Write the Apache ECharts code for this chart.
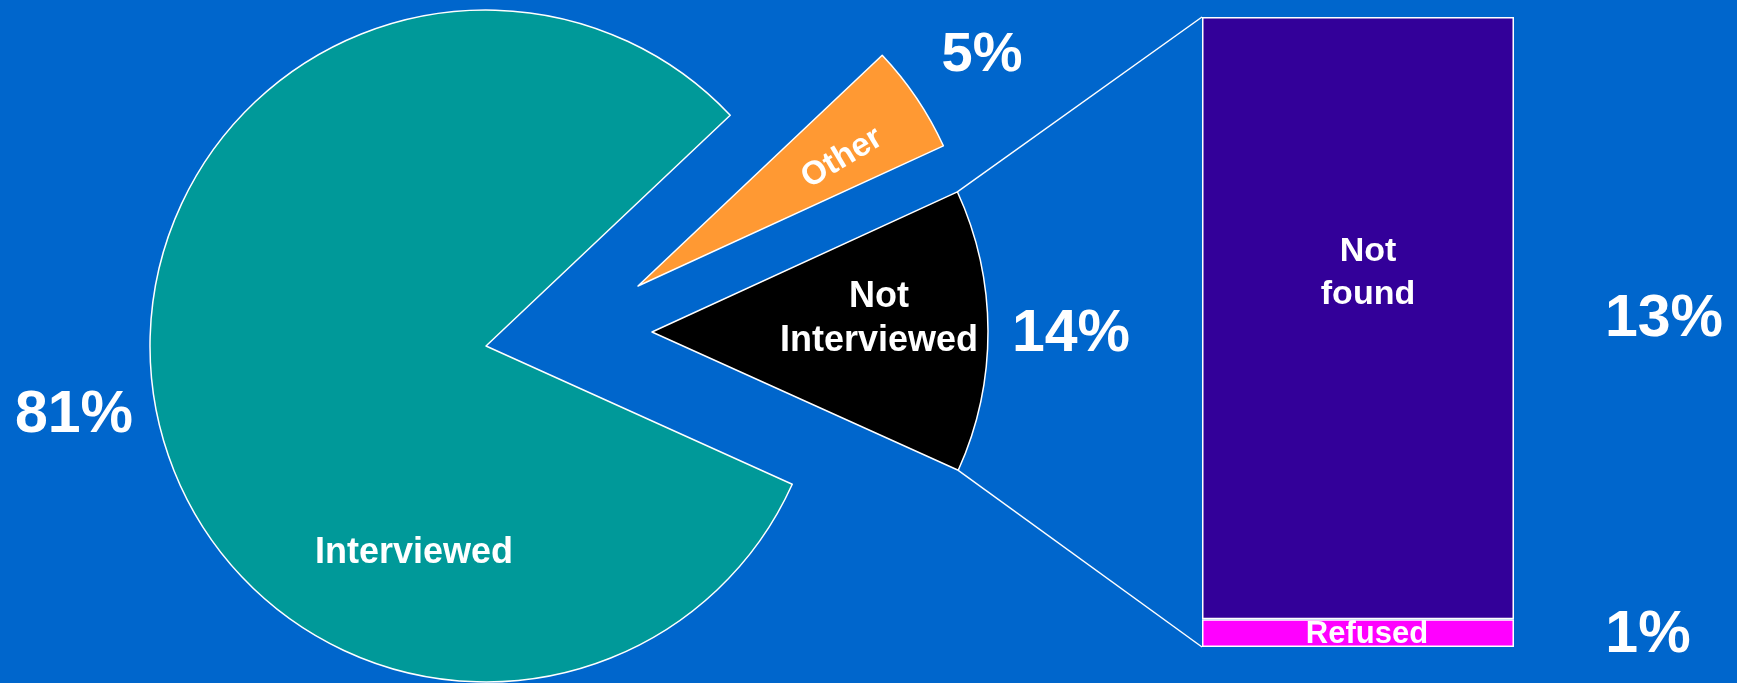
<!DOCTYPE html>
<html><head><meta charset="utf-8">
<script src="https://cdn.jsdelivr.net/npm/echarts@6/dist/echarts.min.js"></script>
<style>html,body{margin:0;padding:0;background:#0066CC}#c{width:1737px;height:683px}</style>
</head><body><div id="c"></div>
<script>
// ---- data ----
const pieNames = ['Not Interviewed', 'Other', 'Interviewed'];
const pieValues = [13.6, 5.2, 81.2];
const pieLabels = ['Not\nInterviewed', 'Other', 'Interviewed'];
const barNames = ['Refused', 'Not found'];
const barValues = [0.6, 13.0];
const barLabels = ['Refused', 'Not\nfound'];

// ---- styles / layout ----
const pieColors = ['#000000', '#FF9933', '#009999'];
const barColors = ['#FF00FF', '#330099'];
const FONT = 'bold {s}px "Liberation Sans", Arial, sans-serif';
const font = s => FONT.replace('{s}', s);
const R = 336;
const START = -24.3;
const mainC = [486, 346];
const centers = [[652, 332], [638, 286], mainC]; // slice i drawn around centers[i]
const grid = {left: 1202, top: 17, width: 312, height: 630};

const total = pieValues.reduce((a, b) => a + b, 0);
const barTotal = barValues.reduce((a, b) => a + b, 0);

function pieSeries(idx) {
  return {
    type: 'pie', silent: true, clockwise: false, startAngle: START,
    center: centers[idx], radius: R, animation: false,
    label: {show: false}, labelLine: {show: false},
    emphasis: {disabled: true},
    data: pieNames.map((n, i) => ({
      name: n, value: pieValues[i],
      itemStyle: i === idx
        ? {color: pieColors[i], borderColor: '#ffffff', borderWidth: 1.5}
        : {color: 'rgba(0,0,0,0)', borderWidth: 0}
    }))
  };
}

// slice angles (deg) computed from data
const angles = [];
let a = START;
pieValues.forEach(v => { const s = a; a += v / total * 360; angles.push([s, a]); });
const rad = d => d * Math.PI / 180;
const ptOn = (c, d) => [c[0] + R * Math.cos(rad(d)), c[1] - R * Math.sin(rad(d))];
const niTop = ptOn(centers[0], angles[0][1]);
const niBot = ptOn(centers[0], angles[0][0]);

const pct = v => Math.round(v) + '%';
function txt(t, x, y, size, extra) {
  return {
    type: 'text', x: x, y: y, z: 100, silent: true,
    style: Object.assign({text: t, fill: '#ffffff', font: font(size), align: 'center', verticalAlign: 'middle'}, extra || {})
  };
}

const graphics = [
  {type: 'line', z: 50, silent: true, shape: {x1: niTop[0], y1: niTop[1], x2: grid.left, y2: grid.top}, style: {stroke: '#ffffff', lineWidth: 1.5}},
  {type: 'line', z: 50, silent: true, shape: {x1: niBot[0], y1: niBot[1], x2: grid.left, y2: grid.top + grid.height}, style: {stroke: '#ffffff', lineWidth: 1.5}},
  // slice names
  txt(pieLabels[2], 414, 553, 36),
  txt(pieLabels[0], 879, 319.5, 36, {lineHeight: 44}),
  Object.assign(txt(pieLabels[1], 842, 158, 33), {rotation: rad(31)}),
  // slice percents
  txt(pct(pieValues[2]), 74, 416, 59),
  txt(pct(pieValues[1]), 982, 56, 56),
  txt(pct(pieValues[0]), 1071, 335, 59),
  // bar names
  txt(barLabels[1], 1368, 273, 34, {lineHeight: 43}),
  txt(barLabels[0], 1367, 650, 31, {verticalAlign: 'bottom'}),
  // bar percents
  txt(pct(barValues[1]), 1664, 320, 59),
  txt(pct(barValues[0]), 1648, 636, 59)
];

const chart = echarts.init(document.getElementById('c'), null, {renderer: 'canvas'});
chart.setOption({
  backgroundColor: '#0066CC',
  animation: false,
  grid: grid,
  xAxis: {type: 'category', data: ['Not Interviewed'], show: false},
  yAxis: {type: 'value', min: 0, max: barTotal, show: false},
  series: [
    pieSeries(2), pieSeries(1), pieSeries(0),
    ...barNames.map((n, i) => ({
      type: 'bar', name: n, stack: 'ni', barWidth: '100%', silent: true,
      data: [barValues[i]],
      itemStyle: {color: barColors[i], borderColor: '#ffffff', borderWidth: 1.5}
    }))
  ],
  graphic: graphics
});
</script></body></html>
